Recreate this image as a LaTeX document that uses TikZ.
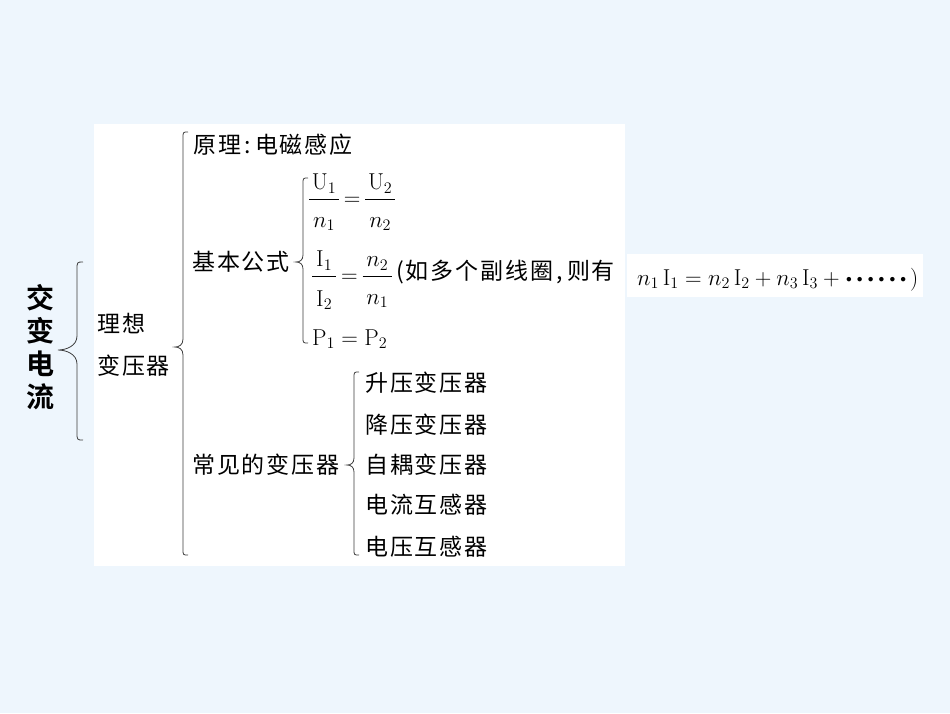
\RequirePackage{fix-cm}
\documentclass[tikz,border=0pt]{standalone}
\usepackage{fontspec}
\usepackage{amsmath}
\newfontfamily\cjk{Noto Sans CJK SC}[LetterSpace=8]
\newfontfamily\cjkbf{Noto Sans CJK SC Bold}
\definecolor{bgblue}{RGB}{238,246,253}
\definecolor{bracegray}{RGB}{60,60,60}
\newcommand\dotb{\mathord{\raisebox{3pt}{$\scriptscriptstyle\bullet$}}}

\begin{document}
\begin{tikzpicture}[x=1pt,y=-1pt,
    txt/.style={anchor=west,inner sep=0pt,font=\cjk\fontsize{23}{27}\selectfont},
    eq/.style={anchor=base west,inner sep=0pt,font=\fontsize{23}{27}\selectfont},
    brc/.style={bracegray,line width=0.8pt}]
        \useasboundingbox(0,0)rectangle(950,713);
        \fill[bgblue](0,0)rectangle(950,713);
        \fill[white](94,124)rectangle(625,566);
        \fill[white](627,254)rectangle(923,297);

        % title and first brace
        \node[inner sep=0pt,align=center,font=\cjkbf\fontsize{28}{33}\selectfont](title)at(41,347){交\\变\\电\\流};
        \draw[brc](83,262)..controls(77,262)..(77,270)--(77,336)..controls(77,346)and(66,350)..(58,350)..controls(66,350)and(77,354)..(77,364)--(77,432)..controls(77,440)..(83,440);
        \node[txt](ideal1)at(97,324){理想};
        \node[txt](ideal2)at(97,366){变压器};

        % second brace
        \draw[brc](188,132)..controls(183,132)..(183,138)--(183,339)..controls(183,345)and(179,347)..(175,347)..controls(179,347)and(183,349)..(183,355)--(183,549)..controls(183,555)..(188,555);
        \node[txt](principle)at(193,145){原理\,:\,电磁感应};
        \node[txt](basic)at(192,262){基本公式};
        \node[txt](common)at(192,465){常见的变压器};

        % basic formulas
        \draw[brc](308,178)..controls(303,178)..(303,184)--(303,255)..controls(303,260)and(300,262)..(296,262)..controls(300,262)and(303,264)..(303,269)--(303,337)..controls(303,343)..(308,343);
        \node[eq](f1)at(308,205.5){$\dfrac{\mkern2mu\mathrm{U}_1\mkern2mu}{\rule{0pt}{24pt}n_1}\,{=}\,\dfrac{\mkern2mu\mathrm{U}_2\mkern2mu}{\rule{0pt}{24pt}n_2}$};
        \node[eq](f2)at(311,282.5){$\dfrac{\,\mathrm{I}_1\,}{\rule{0pt}{26pt}\mathrm{I}_2}\,{=}\,\dfrac{\,n_2\,}{\rule{0pt}{24pt}n_1}$};
        \node[txt](note)at(396,272){(如多个副线圈\,,\,则有};
        \node[eq](f3)at(312,345){$\mathrm{P}_1=\mathrm{P}_2$};
        \node[eq](f4)at(637,285){$n_1\,\mathrm{I}_1=n_2\,\mathrm{I}_2+n_3\,\mathrm{I}_3+\mkern1mu
            \dotb\mkern4mu\dotb\mkern4mu\dotb\mkern4mu\dotb\mkern4mu\dotb\mkern4mu\dotb\,)$};

        % kinds of transformers
        \draw[brc](359,372)..controls(354,372)..(354,378)--(354,458)..controls(354,463)and(351,465)..(347,465)..controls(351,465)and(354,467)..(354,472)--(354,549)..controls(354,555)..(359,555);
        \foreach \y/\t [count=\i] in {383/升压变压器,425/降压变压器,465/自耦变压器,505/电流互感器,547/电压互感器}
            \node[txt](kind\i)at(365,\y){\t};
    \end{tikzpicture}
\end{document}
